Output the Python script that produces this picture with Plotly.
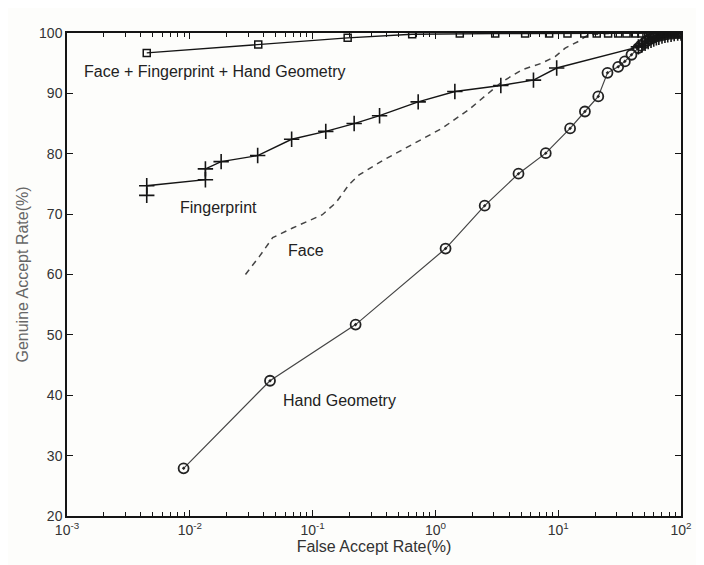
import plotly.graph_objects as go

# ---- data (FAR in %, GAR in %) ----
fusion_far = [0.00446, 0.0361, 0.193, 0.647, 1.58, 3.07, 5.38, 8.44, 11.9, 16.3, 20.6,
              25.5, 30.8, 36.0, 42.1, 47.6, 52.3, 56, 60, 64, 68, 72, 76, 80, 85, 90, 95, 100]
fusion_gar = [96.7, 98.1, 99.2, 99.8, 99.9, 99.9, 99.9, 99.9, 99.9, 99.9, 99.9,
              99.9, 99.9, 99.9, 99.9, 99.9, 99.9, 100, 100, 100, 100, 100, 100, 100, 100, 100, 100, 100]

finger_far = [0.00446, 0.00446, 0.0134, 0.0134, 0.018, 0.0357, 0.0675, 0.128, 0.218, 0.351,
              0.724, 1.44, 3.41, 6.29, 9.72, 45, 48, 51, 54, 57, 60, 63, 66, 70, 74, 78, 83,
              88, 94, 100]
finger_gar = [73.1, 74.7, 75.7, 77.5, 78.7, 79.7, 82.4, 83.7, 85.0, 86.3,
              88.6, 90.3, 91.3, 92.2, 94.2, 97.7, 98.0, 98.3, 98.6, 98.8, 99.0, 99.2, 99.3,
              99.5, 99.6, 99.7, 99.8, 99.9, 100, 100]

face_far = [0.0284, 0.0369, 0.0473, 0.0687, 0.120, 0.155, 0.198, 0.239, 0.381, 0.647,
            1.13, 1.87, 2.71, 3.48, 5.06, 7.35, 9.44, 11.4, 14.6, 17.6, 30, 100]
face_gar = [60.0, 63.0, 66.1, 67.7, 69.9, 71.9, 74.9, 76.5, 79.0, 81.5,
            84.2, 87.3, 90.0, 91.9, 93.9, 95.0, 96.1, 97.5, 98.6, 99.7, 100, 100]

hand_far = [0.0089, 0.045, 0.224, 1.21, 2.52, 4.75, 7.92, 12.5, 16.5, 21.2, 25.2, 30.8,
            34.9, 39.5, 44.8, 47, 50, 53, 56, 59, 62, 65, 68, 72, 76, 80, 85, 90, 95, 100]
hand_gar = [27.9, 42.4, 51.7, 64.3, 71.4, 76.7, 80.1, 84.2, 87.0, 89.5, 93.4, 94.4,
            95.3, 96.4, 97.5, 97.9, 98.3, 98.7, 99.0, 99.2, 99.4, 99.5, 99.6, 99.7,
            99.8, 99.9, 99.9, 100, 100, 100]

x_tickvals = [0.001, 0.01, 0.1, 1, 10, 100]
x_ticktext = ["10<sup>-3</sup>", "10<sup>-2</sup>", "10<sup>-1</sup>",
              "10<sup>0</sup>", "10<sup>1</sup>", "10<sup>2</sup>"]
x_minor_vals = [m * d for d in [0.001, 0.01, 0.1, 1, 10] for m in range(2, 10)]
y_tickvals = [20, 30, 40, 50, 60, 70, 80, 90, 100]

labels = ["Face + Fingerprint + Hand Geometry", "Fingerprint", "Face", "Hand Geometry"]
# label anchor positions (log10 FAR, GAR)
label_x = [-2.878, -2.099, -1.214, -1.255]
label_y = [93.6, 71.1, 64.0, 39.2]

FONT = "Liberation Sans, Arial, sans-serif"
INK = "#151515"

fig = go.Figure()
fig.add_trace(go.Scatter(x=face_far, y=face_gar, mode="lines",
                         line=dict(color="#444444", width=1.5, dash="6px,5px")))
fig.add_trace(go.Scatter(x=hand_far, y=hand_gar, mode="lines+markers",
                         line=dict(color="#444444", width=1.2),
                         marker=dict(symbol="circle-open-dot", size=10, color="#222222",
                                     line=dict(width=1.8, color="#222222"))))
fig.add_trace(go.Scatter(x=finger_far, y=finger_gar, mode="lines+markers",
                         line=dict(color=INK, width=1.4),
                         marker=dict(symbol="cross-thin", size=11, color=INK,
                                     line=dict(width=1.6, color=INK))))
fig.add_trace(go.Scatter(x=fusion_far, y=fusion_gar, mode="lines+markers",
                         line=dict(color=INK, width=1.4),
                         marker=dict(symbol="square-open", size=7, color=INK,
                                     line=dict(width=1.5))))
# invisible trace to carry the top mirror axis
fig.add_trace(go.Scatter(x=[0.001, 100], y=[20, 100], xaxis="x2", mode="markers",
                         marker=dict(opacity=0), hoverinfo="skip"))

ann_font = dict(family=FONT, size=16, color="#222222")
for lx, ly, txt in zip(label_x, label_y, labels):
    fig.add_annotation(x=lx, y=ly, text=txt, showarrow=False, xanchor="left",
                       font=ann_font)

axis_common = dict(showline=True, linecolor=INK, linewidth=1.5,
                   ticks="inside", ticklen=6, tickwidth=1.2, tickcolor=INK,
                   showgrid=False, zeroline=False,
                   tickfont=dict(family=FONT, size=14, color="#333333"))
minor_ticks = dict(tickmode="array", tickvals=x_minor_vals, ticks="inside", ticklen=4,
                   tickwidth=1, tickcolor=INK, showgrid=False)

fig.update_layout(
    xaxis=dict(type="log", range=[-3, 2], tickmode="array", tickvals=x_tickvals,
               ticktext=x_ticktext, minor=minor_ticks,
               title=dict(text="False Accept Rate(%)", standoff=4,
                          font=dict(family=FONT, size=16, color="#333333")),
               **axis_common),
    xaxis2=dict(type="log", range=[-3, 2], tickmode="array", tickvals=x_tickvals,
                overlaying="x", side="top", showticklabels=False, minor=minor_ticks,
                **{k: v for k, v in axis_common.items() if k != "tickfont"}),
    yaxis=dict(range=[20, 100], tickvals=y_tickvals, mirror="ticks",
               title=dict(text="Genuine Accept Rate(%)", standoff=6,
                          font=dict(family=FONT, size=16, color="#666666")),
               **axis_common),
)

fig.update_layout(width=696, height=557, showlegend=False,
                  margin=dict(l=59, r=21, t=25, b=48),
                  paper_bgcolor="#fdfdfb", plot_bgcolor="#fdfdfb")

fig.write_html("out.html")
